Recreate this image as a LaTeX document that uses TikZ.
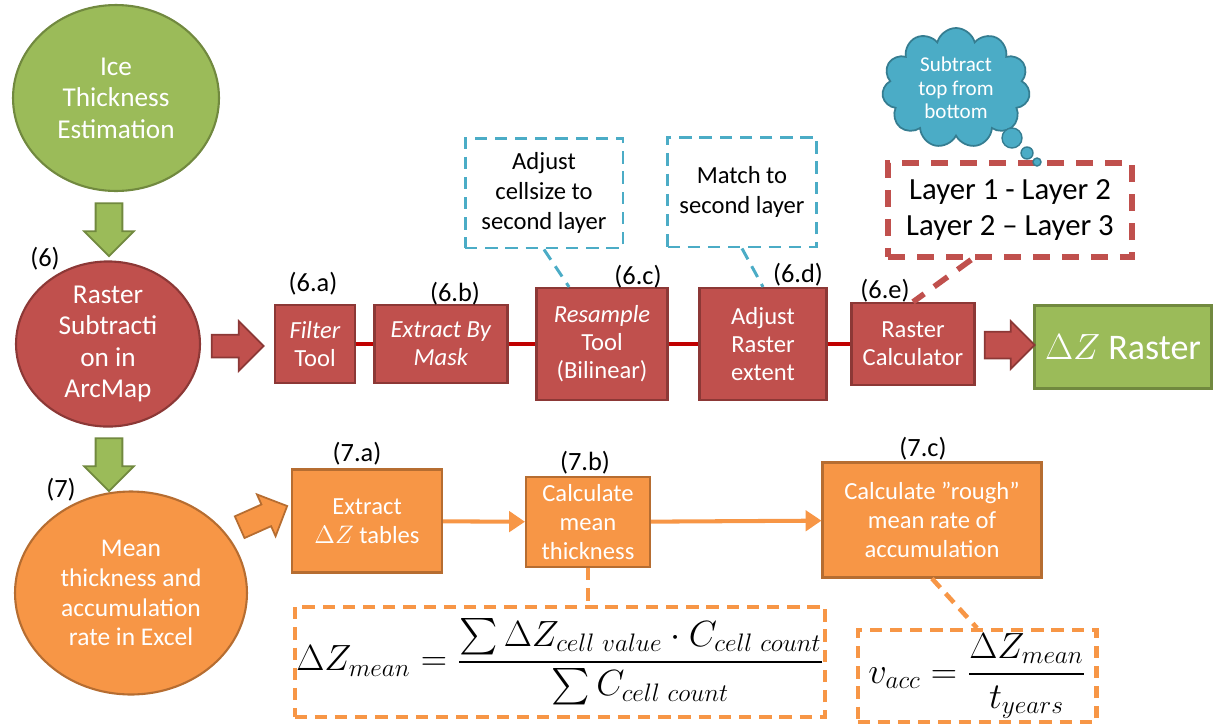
\documentclass[tikz,border=0pt]{standalone}
\usepackage{amsmath}
\usepackage{fontspec}
\setmainfont{Carlito}
\usetikzlibrary{positioning, shapes.geometric, shapes.arrows, shapes.symbols, arrows.meta}

\definecolor{rasterred}{HTML}{C0504D}
\definecolor{rasterredline}{HTML}{8C3836}
\definecolor{chainred}{HTML}{C00000}
\definecolor{icegreen}{HTML}{9BBB59}
\definecolor{icegreenline}{HTML}{71893F}
\definecolor{excelorange}{HTML}{F79646}
\definecolor{excelorangeline}{HTML}{B66D31}
\definecolor{noteblue}{HTML}{4BACC6}
\definecolor{noteblueline}{HTML}{357D91}

\begin{document}
\begin{tikzpicture}[
    x=0.02cm, y=-0.02cm,
    blob/.style={ellipse, line width=1.2pt, text=white, align=center, inner sep=0pt, font=\fontsize{15.5}{18}\selectfont},
    redbox/.style={rectangle, draw=rasterredline, fill=rasterred, line width=1.2pt, text=white, align=center, inner sep=0pt, font=\fontsize{14}{16}\selectfont},
    orangebox/.style={rectangle, draw=excelorangeline, fill=excelorange, line width=1.2pt, text=white, align=center, inner sep=0pt, font=\fontsize{14}{16.5}\selectfont},
    notebox/.style={rectangle, draw=noteblue, line width=1.7pt, dash pattern=on 7pt off 4.5pt, align=center, inner sep=0pt, font=\fontsize{14}{17}\selectfont},
    lbl/.style={font=\fontsize{15}{17}\selectfont, inner sep=0pt},
    blockarrow/.style={single arrow, single arrow head extend=#1, line width=1pt},
    chain/.style={chainred, line width=2.8pt},
    flow/.style={excelorange, line width=2.3pt, -{Triangle[length=9pt, width=11.5pt]}},
    bluedash/.style={noteblue, line width=1.7pt, dash pattern=on 7pt off 4.5pt},
    reddash/.style={rasterred, line width=3.2pt, dash pattern=on 9.5pt off 7pt},
    orangedash/.style={excelorange, line width=2.6pt, dash pattern=on 7pt off 4.5pt},
    bubble/.style={circle, draw=noteblueline, fill=noteblue, line width=0.8pt, inner sep=0pt}
]
\useasboundingbox (0,0) rectangle (1216,727);

% Ice thickness input
\node[blob, fill=icegreen, draw=icegreenline, minimum width=4.12cm, minimum height=3.72cm] (ice) at (116,98) {Ice\\Thickness\\Estimation};

% Step 6: raster subtraction
\node[blob, fill=rasterred, draw=rasterredline, minimum width=3.68cm, minimum height=3.24cm] (sub) at (108,344) {Raster\\Subtracti\\on in\\ArcMap};
\node[lbl] (l6) at (45,259) {(6)};
\node[blockarrow=0.23cm, fill=icegreen, draw=icegreenline, inner sep=0.25cm, minimum height=1.06cm, rotate=-90] (down1) at (109,223) {};

\node[redbox, minimum width=1.6cm, minimum height=1.56cm] (filter) at (315,344) {\textit{Filter}\\Tool};
\node[redbox, minimum width=2.66cm, minimum height=1.56cm] (mask) at (441,344) {\textit{Extract By}\\\textit{Mask}};
\node[redbox, minimum width=2.62cm, minimum height=2.24cm] (resample) at (602,344) {\textit{Resample}\\Tool\\(Bilinear)};
\node[redbox, minimum width=2.54cm, minimum height=2.24cm] (adjust) at (763,344) {Adjust\\Raster\\extent};
\node[redbox, minimum width=2.46cm, minimum height=1.64cm] (calc) at (913,344) {Raster\\Calculator};
\node[rectangle, draw=icegreenline, fill=icegreen, line width=1.2pt, text=white, minimum width=3.54cm, minimum height=1.66cm, font=\fontsize{20.5}{22}\selectfont] (dz) at (1123,347) {$\Delta Z$ Raster};

\node[lbl] (l6a) at (313,284) {(6.a)};
\node[lbl] (l6b) at (455,294) {(6.b)};
\node[lbl] (l6c) at (638,277) {(6.c)};
\node[lbl] (l6d) at (798,275) {(6.d)};
\node[lbl] (l6e) at (885,291) {(6.e)};

\node[blockarrow=0.27cm, fill=rasterred, draw=rasterredline, inner sep=0.21cm, minimum height=1.04cm] (right1) at (232,346) {};
\node[blockarrow=0.21cm, fill=rasterred, draw=rasterredline, inner sep=0.25cm, minimum height=1.0cm] (right2) at (1003,345) {};

\draw[chain] (filter) -- (mask);
\draw[chain] (mask) -- (resample);
\draw[chain] (resample) -- (adjust);
\draw[chain] (adjust) -- (calc);

% Notes on the raster steps
\node[notebox, minimum width=3.16cm, minimum height=2.2cm] (cellnote) at (544,193) {Adjust\\cellsize to\\second layer};
\node[notebox, minimum width=2.98cm, minimum height=2.2cm] (matchnote) at (742,192) {Match to\\second layer};
\node[rectangle, draw=rasterred, line width=3.2pt, dash pattern=on 9.5pt off 7pt, minimum width=4.88cm, minimum height=1.88cm, align=center, font=\fontsize{17.5}{21}\selectfont] (layers) at (1010,210) {Layer 1 - Layer 2\\Layer 2 – Layer 3};
\draw[bluedash] (cellnote.south) -- (resample.120);
\draw[bluedash] (matchnote.south) -- (adjust.north);
\draw[reddash] (layers.232) -- (calc.north);

% Thought cloud
\node[cloud, cloud puffs=11, cloud ignores aspect, draw=noteblueline, fill=noteblue, line width=1pt, text=white, minimum width=2.96cm, minimum height=2.4cm, inner sep=0pt, align=center, font=\fontsize{12}{13.5}\selectfont] (cloud) at (956,88) {Subtract\\top from\\bottom};
\node[bubble, minimum size=0.4cm] (b1) at (1012,138) {};
\node[bubble, minimum size=0.24cm] (b2) at (1027,153) {};
\node[bubble, minimum size=0.16cm] (b3) at (1037,162) {};

% Step 7: statistics in Excel
\node[blockarrow=0.23cm, fill=icegreen, draw=icegreenline, inner sep=0.25cm, minimum height=1.06cm, rotate=-90] (down2) at (109,458) {};
\node[blob, fill=excelorange, draw=excelorangeline, minimum width=4.64cm, minimum height=4.06cm, font=\fontsize{14.5}{17}\selectfont] (excel) at (131,593) {Mean\\thickness and\\accumulation\\rate in Excel};
\node[lbl] (l7) at (61,490) {(7)};
\node[blockarrow=0.22cm, fill=excelorange, draw=excelorangeline, inner sep=0.22cm, minimum height=1.04cm, rotate=24] (diag) at (258,519) {};

\node[orangebox, minimum width=3.0cm, minimum height=2.06cm] (tables) at (367,521) {Extract\\$\Delta Z$ tables};
\node[orangebox, minimum width=2.48cm, minimum height=1.8cm] (thick) at (588,522) {Calculate\\mean\\thickness};
\node[orangebox, minimum width=4.38cm, minimum height=2.3cm] (rough) at (932,520) {Calculate ”rough”\\mean rate of\\accumulation};

\node[lbl] (l7a) at (357,454) {(7.a)};
\node[lbl] (l7b) at (585,463) {(7.b)};
\node[lbl] (l7c) at (923,449) {(7.c)};

\draw[flow] (tables) -- (thick);
\draw[flow] (thick) -- (rough);

% Formulas
\node[rectangle, draw=excelorange, line width=2.3pt, dash pattern=on 7pt off 4.5pt, minimum width=10.62cm, minimum height=2.2cm, inner sep=0pt, font=\fontsize{20}{24}\selectfont] (meanf) at (560,662) {$\Delta Z_{mean} = \dfrac{\sum \Delta Z_{cell\ value}\cdot C_{cell\ count}}{\sum C_{cell\ count}}$};
\node[rectangle, draw=excelorange, line width=2.3pt, dash pattern=on 7pt off 4.5pt, minimum width=4.78cm, minimum height=1.84cm, inner sep=0pt, font=\fontsize{20}{24}\selectfont] (accf) at (977,676) {$v_{acc} = \dfrac{\Delta Z_{mean}}{t_{years}}$};
\draw[orangedash] (thick.south) -- (thick.south |- meanf.north);
\draw[orangedash] (rough.south) -- (accf.north);

\end{tikzpicture}
\end{document}
